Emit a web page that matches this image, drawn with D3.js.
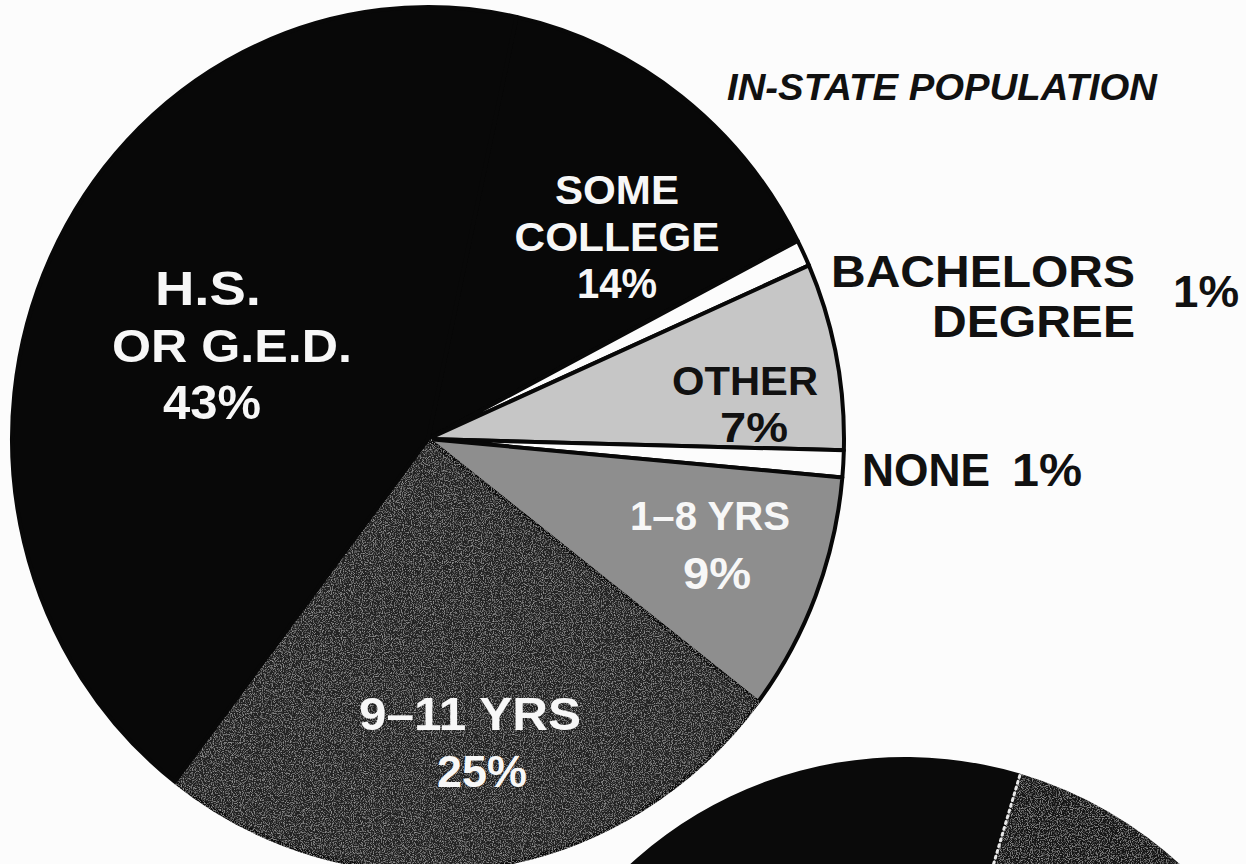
<!doctype html>
<html>
<head>
<meta charset="utf-8">
<title>In-state population</title>
<script src="https://cdn.jsdelivr.net/npm/d3@7"></script>
<style>
*{margin:0;padding:0;}
body{background:#fcfcfc;}
svg{display:block;}
text{font-family:"Liberation Sans",Arial,Helvetica,sans-serif;font-weight:bold;}
</style>
</head>
<body>
<script>
// data
var categories = ["SOME COLLEGE", "BACHELORS DEGREE", "OTHER", "NONE", "1–8 YRS", "9–11 YRS", "H.S. OR G.E.D."];
var percents   = [14, 1, 7, 1, 9, 25, 43];
var title      = "IN-STATE POPULATION";
// second chart, only its top edge is on the page
var lowerPieValues = [30, 70];

var W = 1246, H = 864;
var svg = d3.select("body").append("svg").attr("width", W).attr("height", H);

// grain for the speckled slices
var defs = svg.append("defs");
var grain = defs.append("filter").attr("id", "grain").attr("x", 0).attr("y", 0).attr("width", 1).attr("height", 1);
grain.append("feTurbulence").attr("type", "fractalNoise").attr("baseFrequency", 0.9).attr("numOctaves", 2).attr("seed", 4).attr("result", "n");
grain.append("feColorMatrix").attr("in", "n").attr("type", "matrix")
  .attr("values", "0 0 0 0 1  0 0 0 0 1  0 0 0 0 1  3.2 0 0 0 -1.55").attr("result", "sp");
grain.append("feComposite").attr("in", "sp").attr("in2", "SourceGraphic").attr("operator", "in").attr("result", "spc");
grain.append("feComponentTransfer").attr("in", "spc").attr("result", "spf")
  .append("feFuncA").attr("type", "linear").attr("slope", 0.3);
var mg = grain.append("feMerge");
mg.append("feMergeNode").attr("in", "SourceGraphic");
mg.append("feMergeNode").attr("in", "spf");

var fills = d3.scaleOrdinal()
  .domain(categories)
  .range(["#080808", "#fcfcfc", "#c6c6c6", "#fcfcfc", "#8e8e8e", "#242424", "#080808"]);

var rx = 416, ry = 432, cx = 428, cy = 439;
var startDeg = 12.3;

var pie = d3.pie().sort(null).value(function(d){ return d.v; })
  .startAngle(startDeg * Math.PI / 180)
  .endAngle((startDeg + 360) * Math.PI / 180);
var arc = d3.arc().innerRadius(0).outerRadius(rx);

var slices = pie(categories.map(function(c, i){ return {c: c, v: percents[i]}; }));

var g = svg.append("g").attr("transform", "translate(" + cx + "," + cy + ") scale(1," + (ry / rx) + ")");
g.selectAll("path.slice").data(slices).enter().append("path")
  .attr("class", "slice")
  .attr("d", arc)
  .attr("fill", function(d){ return fills(d.data.c); })
  .attr("filter", function(d){ return d.data.c == "9–11 YRS" ? "url(#grain)" : null; })
  .attr("stroke", "#080808")
  .attr("stroke-width", 4)
  .attr("stroke-linejoin", "round")
  .attr("vector-effect", "non-scaling-stroke");

// lower chart, cut off by the page edge
var lowerStart = 16.5;
var lowerPie = d3.pie().sort(null)
  .startAngle(lowerStart * Math.PI / 180).endAngle((lowerStart + 360) * Math.PI / 180);
var lowerArc = d3.arc().innerRadius(0).outerRadius(406);
var lg = svg.append("g").attr("transform", "translate(905,1163)");
var lowerSlices = lowerPie(lowerPieValues);
lg.selectAll("path").data(lowerSlices).enter().append("path")
  .attr("d", lowerArc)
  .attr("fill", function(d, i){ return i == 0 ? "#141414" : "#0a0a0a"; })
  .attr("filter", function(d, i){ return i == 0 ? "url(#grain)" : null; });
// dotted white edge between the two visible slices
var a0 = lowerSlices[0].startAngle;
lg.append("line")
  .attr("x1", 0).attr("y1", 0)
  .attr("x2", 406 * Math.sin(a0)).attr("y2", -406 * Math.cos(a0))
  .attr("stroke", "#e8e8e8").attr("stroke-width", 3)
  .attr("stroke-dasharray", "2 4").attr("stroke-linecap", "round");

// labels: positions are layout, text comes from the arrays above
var layout = [
  {i: 0, lines: ["SOME", "COLLEGE", "%"], x: 617, y: [204, 251, 298], size: [41, 41, 42], fill: "#f7f7f7", anchor: "middle", len: [124, 205, 80]},
  {i: 6, lines: ["H.S.", "OR G.E.D.", "%"], x: 220, y: [305, 362, 419], size: [48, 47, 48], fill: "#f7f7f7", anchor: "middle", dx: [-12, 12, -8], len: [106, 240, 98]},
  {i: 2, lines: ["OTHER", "%"], x: 745, y: [395, 442], size: [41, 42], fill: "#111", anchor: "middle", dx: [0, 9], len: [146, 68]},
  {i: 4, lines: ["1–8 YRS", "%"], x: 710, y: [530, 589], size: [40, 44], fill: "#f7f7f7", anchor: "middle", dx: [0, 7], len: [160, 68]},
  {i: 5, lines: ["9–11 YRS", "%"], x: 470, y: [730, 787], size: [47, 45], fill: "#f7f7f7", anchor: "middle", dx: [0, 12], len: [222, 90]},
  {i: 1, lines: ["BACHELORS", "DEGREE"], x: 1135, y: [287, 337], size: [45, 45], fill: "#111", anchor: "end", len: [304, 203]},
  {i: 3, lines: ["NONE"], x: 862, y: [486], size: [46], fill: "#111", anchor: "start", len: [128]}
];

var labels = svg.append("g");
layout.forEach(function(L){
  L.lines.forEach(function(line, k){
    var t = line == "%" ? percents[L.i] + "%" : line;
    labels.append("text")
      .attr("x", L.x + (L.dx ? L.dx[k] : 0))
      .attr("y", L.y[k])
      .attr("text-anchor", L.anchor)
      .attr("font-size", L.size[k])
      .attr("fill", L.fill)
      .attr("textLength", L.len[k])
      .attr("lengthAdjust", "spacingAndGlyphs")
      .text(t);
  });
});

// percentages set outside the pie
labels.append("text").attr("x", 1173).attr("y", 307)
  .attr("font-size", 45).attr("fill", "#111")
  .attr("textLength", 66).attr("lengthAdjust", "spacingAndGlyphs")
  .text(percents[1] + "%");
labels.append("text").attr("x", 1012).attr("y", 486)
  .attr("font-size", 46).attr("fill", "#111")
  .attr("textLength", 70).attr("lengthAdjust", "spacingAndGlyphs")
  .text(percents[3] + "%");

svg.append("text")
  .attr("x", 727).attr("y", 100)
  .attr("font-size", 37).attr("font-style", "italic")
  .attr("fill", "#111")
  .attr("textLength", 430).attr("lengthAdjust", "spacingAndGlyphs")
  .text(title);
</script>
</body>
</html>
